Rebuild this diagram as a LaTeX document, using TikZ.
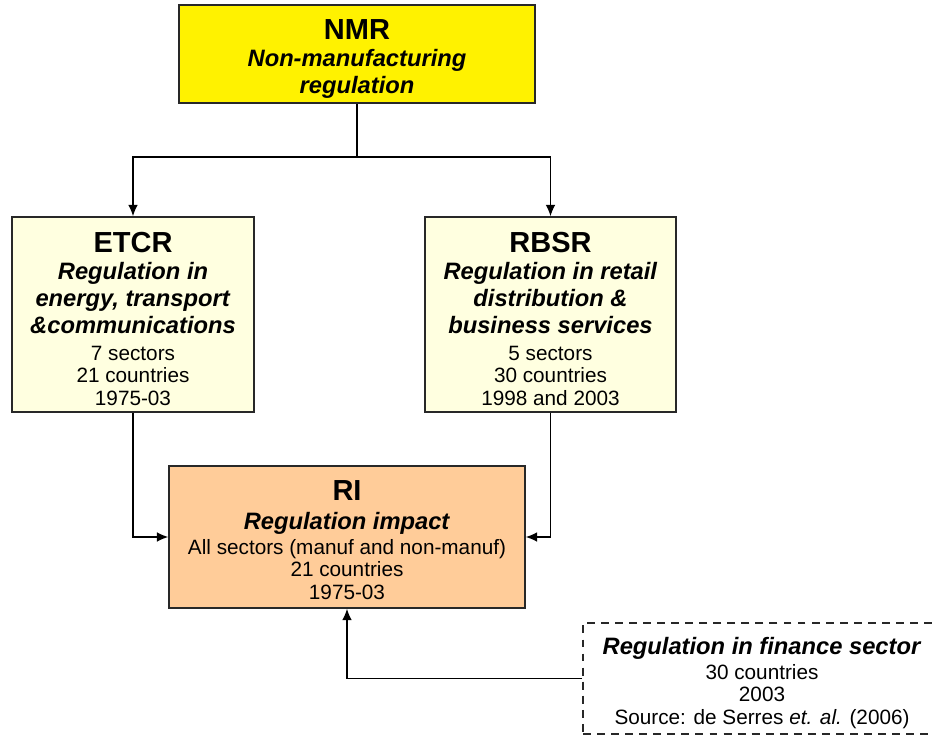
\documentclass[tikz,border=0pt]{standalone}
\usepackage{fontspec}
\setmainfont{Liberation Sans}
\usetikzlibrary{arrows.meta}
\definecolor{paleyellow}{RGB}{255,255,224}
\definecolor{peach}{RGB}{255,204,153}
\definecolor{edgegray}{RGB}{40,40,40}
\newcommand{\boxname}[2][16.5pt]{{\fontsize{16.5}{12.8}\selectfont\rule{0pt}{#1}\textbf{#2}}}
\newcommand{\boxtopic}[1]{{\fontsize{13.5}{12.8}\selectfont\textbf{\textit{#1}}}}
\newcommand{\boxfont}{\fontsize{11.8}{12.8}\selectfont\lineskiplimit=-20pt\lineskip=0pt}

\begin{document}
\begin{tikzpicture}[x=0.02cm, y=-0.02cm]
\tikzstyle{every node}=[draw=edgegray, rectangle, line width=0.8pt, align=center, inner sep=0pt, font=\boxfont]
\tikzstyle{link}=[line width=0.8pt, -{Latex[length=6.5pt,width=5.5pt]}]
\clip (0,0) rectangle (933,736);
\draw node[fill=yellow, minimum width=7.12cm, minimum height=1.96cm] (nmr) at (357,54)
  {\boxname[17pt]{NMR}\\[2.5pt] \boxtopic{Non-manufacturing}\\[2.5pt] \boxtopic{regulation}};
\draw node[fill=paleyellow, minimum width=4.84cm, minimum height=3.9cm] (etcr) at (133,314.5)
  {\boxname{ETCR}\\[2.5pt] \boxtopic{Regulation in}\\[2.5pt] \boxtopic{energy, transport}\\[2.5pt]
   \boxtopic{\&communications}\\[2.5pt] 7 sectors\\ 21 countries\\ 1975-03};
\draw node[fill=paleyellow, minimum width=5.02cm, minimum height=3.9cm] (rbsr) at (550.5,314.5)
  {\boxname{RBSR}\\[2.5pt] \boxtopic{Regulation in retail}\\[2.5pt] \boxtopic{distribution \&}\\[2.5pt]
   \boxtopic{business services}\\[2.5pt] 5 sectors\\ 30 countries\\ 1998 and 2003};
\draw node[fill=peach, minimum width=7.12cm, minimum height=2.84cm] (ri) at (347,537)
  {\boxname[14.5pt]{RI}\\[3.6pt] \boxtopic{Regulation impact}\\[1.4pt] All sectors (manuf and non-manuf)\\
   21 countries\\ 1975-03};
\draw node[fill=white, dash pattern=on 4.5pt off 3.5pt, line width=1.1pt, minimum width=7.16cm, minimum height=2.22cm] (fin) at (762,678.5)
  {\rule{0pt}{15pt}\boxtopic{Regulation in finance sector}\\[1.4pt] 30 countries\\[-0.3pt] 2003\\[0.8pt]
   Source: de Serres \textit{et. al.} (2006)};
\coordinate (split) at (357,157);
\draw[line width=0.8pt] (nmr) -- (split);
\draw[link] (split) -| (etcr);
\draw[link] (split) -| (rbsr);
\draw[link] (etcr) |- (ri);
\draw[link] (rbsr) |- (ri);
\draw[link] (fin) -| (ri);
\end{tikzpicture}
\end{document}
